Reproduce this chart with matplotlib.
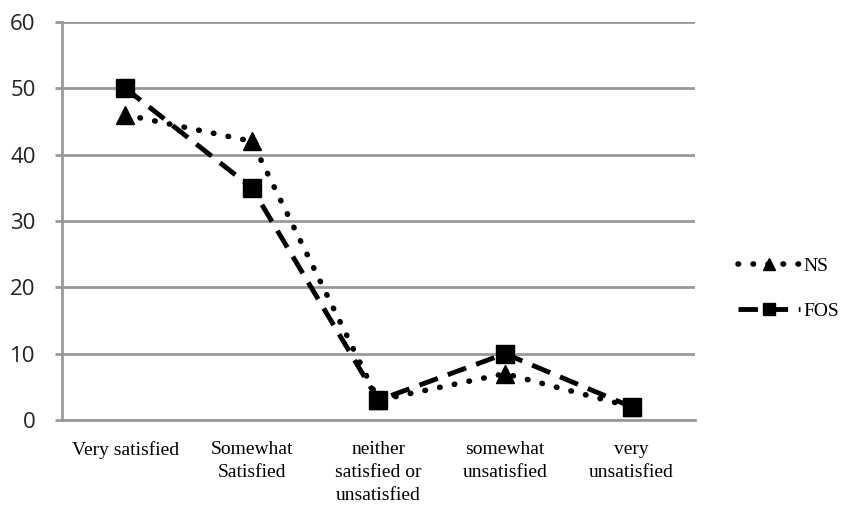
import matplotlib
matplotlib.use("Agg")
import matplotlib.pyplot as plt

categories = ["Very satisfied", "Somewhat\nSatisfied", "neither\nsatisfied or\nunsatisfied",
              "somewhat\nunsatisfied", "very\nunsatisfied"]
ns_values = [46, 42, 3, 7, 2]
fos_values = [50, 35, 3, 10, 2]

fig = plt.figure(figsize=(8.61, 5.08), dpi=100)
ax = fig.add_axes([0.072, 0.173, 0.735, 0.784])

x = list(range(len(categories)))
ax.plot(x, ns_values, color="black", linestyle=(0, (0.1, 2.6)), linewidth=4,
        marker="^", markersize=13, label="NS", dash_capstyle="round")
ax.plot(x, fos_values, color="black", linestyle=(0, (4, 2.2)), linewidth=3.5,
        marker="s", markersize=13, label="FOS")

ax.set_xlim(-0.5, 4.5)
ax.set_ylim(0, 60)
ax.set_yticks(range(0, 61, 10))
ax.yaxis.grid(True, color="#999999", linewidth=2)
ax.set_axisbelow(True)
for s in ["top", "right"]:
    ax.spines[s].set_visible(False)
ax.spines["left"].set_color("#999999")
ax.spines["left"].set_linewidth(2)
ax.spines["bottom"].set_color("#999999")
ax.spines["bottom"].set_linewidth(2)
ax.tick_params(axis="y", length=5, width=2, color="#999999", pad=14,
               labelsize=16, labelcolor="#222222")
ax.tick_params(axis="x", length=0, pad=15)
ax.set_xticks(x)
ax.set_xticklabels(categories, fontfamily="Liberation Serif", fontsize=14, va="top",
                   linespacing=1.45)
for lab in ax.get_yticklabels():
    lab.set_fontfamily("Open Sans")

leg = ax.legend(loc="center left", bbox_to_anchor=(1.04, 0.33), frameon=False,
                prop={"family": "Liberation Serif", "size": 14},
                handlelength=3.2, handletextpad=0.2, labelspacing=1.4)
for h in leg.legend_handles:
    h.set_markersize(9)

fig.savefig("out.png", dpi=100)
